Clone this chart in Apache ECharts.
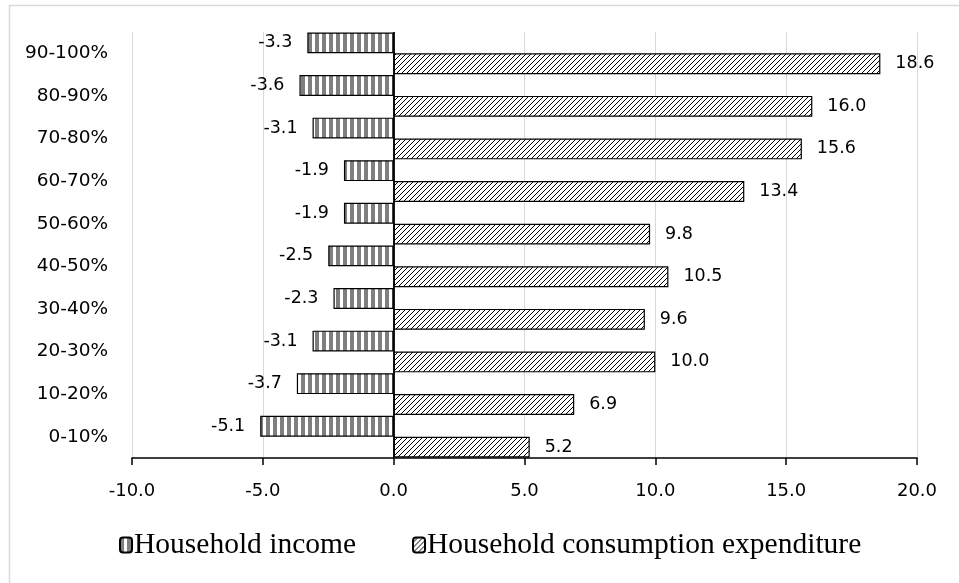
<!DOCTYPE html>
<html>
<head>
<meta charset="utf-8">
<script src="https://cdn.jsdelivr.net/npm/echarts@6/dist/echarts.min.js"></script>
<style>
  html, body { margin: 0; padding: 0; background: #fff; }
  #chart { width: 959px; height: 583px; }
</style>
</head>
<body>
<div id="chart"></div>
<script>
// Deciles, bottom to top
var categories = ['0-10%', '10-20%', '20-30%', '30-40%', '40-50%', '50-60%', '60-70%', '70-80%', '80-90%', '90-100%'];
var incomeValues = [-5.1, -3.7, -3.1, -2.3, -2.5, -1.9, -1.9, -3.1, -3.6, -3.3];
var consumptionValues = [5.2, 6.9, 10.0, 9.6, 10.5, 9.8, 13.4, 15.6, 16.0, 18.6];
var seriesNames = ['Household income', 'Household consumption expenditure'];
var xTicks = { min: -10, max: 20, interval: 5 };

// Fill patterns: vertical grey stripes and black forward-slash hatching
function stripePattern() {
  var c = document.createElement('canvas');
  c.width = 7; c.height = 7;
  var ctx = c.getContext('2d');
  ctx.fillStyle = '#ffffff';
  ctx.fillRect(0, 0, 7, 7);
  ctx.fillStyle = '#7f7f7f';
  ctx.fillRect(0, 0, 4, 7);
  return c;
}
function hatchPattern() {
  var s = 5;
  var c = document.createElement('canvas');
  c.width = s; c.height = s;
  var ctx = c.getContext('2d');
  ctx.fillStyle = '#ffffff';
  ctx.fillRect(0, 0, s, s);
  ctx.strokeStyle = '#000000';
  ctx.lineWidth = 1;
  ctx.beginPath();
  ctx.moveTo(0, s); ctx.lineTo(s, 0);
  ctx.moveTo(-1, 1); ctx.lineTo(1, -1);
  ctx.moveTo(s - 1, s + 1); ctx.lineTo(s + 1, s - 1);
  ctx.stroke();
  return c;
}

var labelFont = 'DejaVu Sans';
var chart = echarts.init(document.getElementById('chart'), null, { renderer: 'canvas' });

chart.setOption({
  animation: false,
  backgroundColor: '#ffffff',
  graphic: [{
    type: 'rect',
    left: 7, top: 3,
    shape: { width: 970, height: 600 },
    style: { fill: 'none', stroke: '#d9d9d9', lineWidth: 1.5 },
    silent: true
  }],
  grid: { left: 132, right: 42, top: 32, bottom: 125, containLabel: false },
  xAxis: {
    type: 'value',
    min: xTicks.min, max: xTicks.max, interval: xTicks.interval,
    axisLine: { show: true, onZero: false, lineStyle: { color: '#000', width: 1.5 } },
    axisTick: { show: true, length: 7, lineStyle: { color: '#000', width: 1.5 } },
    splitLine: { show: true, lineStyle: { color: '#d9d9d9', width: 1 } },
    axisLabel: {
      margin: 24,
      color: '#000',
      fontFamily: labelFont,
      fontSize: 18,
      formatter: function (v) { return v.toFixed(1); }
    }
  },
  yAxis: {
    type: 'category',
    data: categories,
    axisLine: { show: false },
    axisTick: { show: false },
    splitLine: { show: false },
    axisLabel: { margin: 24, color: '#000', fontFamily: labelFont, fontSize: 18.5 }
  },
  legend: {
    left: 114, top: 525,
    itemWidth: 12, itemHeight: 15,
    itemGap: 56,
    textStyle: { fontFamily: 'Liberation Serif', fontSize: 29.5, color: '#000', padding: [0, 0, 0, -3] },
    data: seriesNames
  },
  series: [
    {
      name: seriesNames[0],
      type: 'bar',
      data: incomeValues,
      barGap: '0%',
      barCategoryGap: '2%',
      itemStyle: {
        color: { image: stripePattern(), repeat: 'repeat' },
        borderColor: '#000', borderWidth: 1.2
      },
      label: {
        show: true, position: 'left', distance: 15,
        color: '#000', fontFamily: labelFont, fontSize: 17.5,
        formatter: function (p) { return p.value.toFixed(1); }
      }
    },
    {
      name: seriesNames[1],
      type: 'bar',
      data: consumptionValues,
      barGap: '0%',
      barCategoryGap: '2%',
      itemStyle: {
        color: { image: hatchPattern(), repeat: 'repeat' },
        borderColor: '#000', borderWidth: 1.2
      },
      label: {
        show: true, position: 'right', distance: 15,
        color: '#000', fontFamily: labelFont, fontSize: 17.5,
        formatter: function (p) { return p.value.toFixed(1); }
      },
      markLine: {
        silent: true,
        symbol: ['none', 'none'],
        label: { show: false },
        lineStyle: { color: '#000', width: 1.8, type: 'solid' },
        data: [{ xAxis: 0 }]
      }
    }
  ]
});
</script>
</body>
</html>
